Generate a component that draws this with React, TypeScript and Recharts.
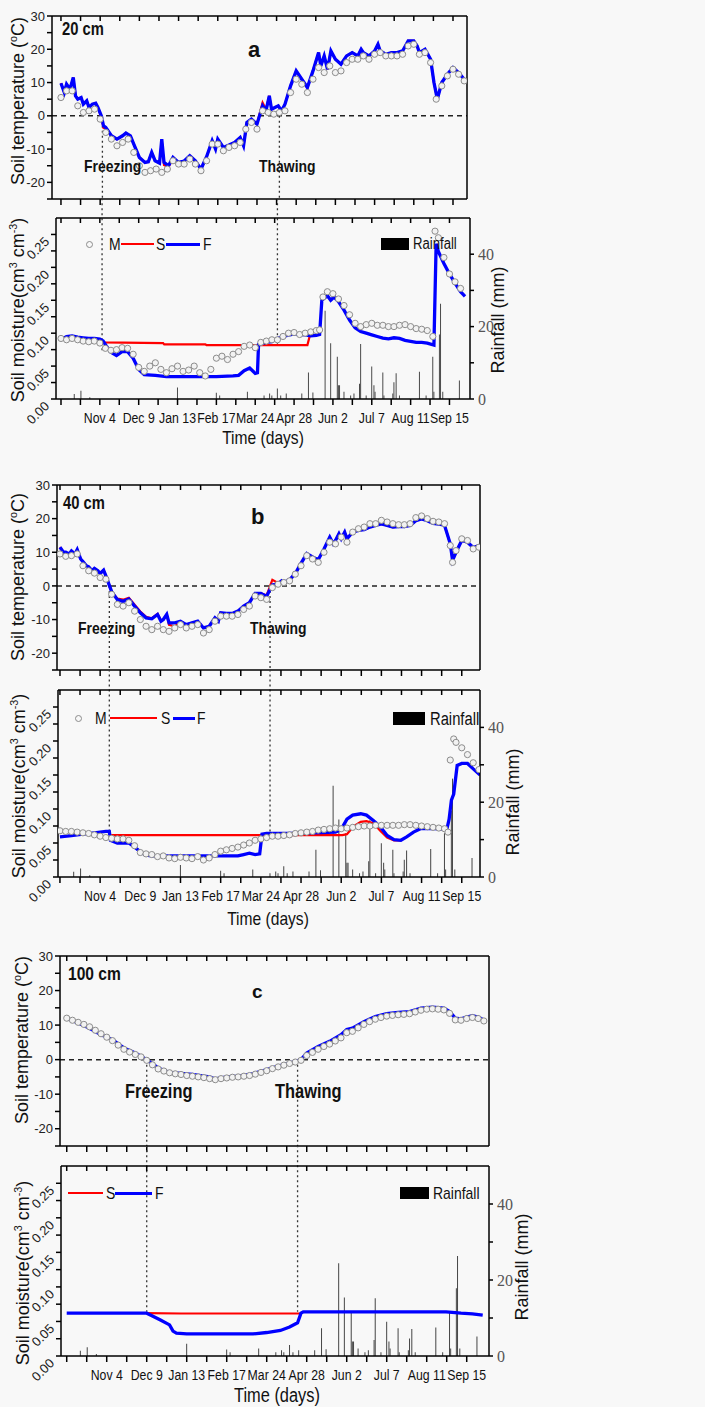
import { ComposedChart, Line, Bar, XAxis, YAxis, ReferenceLine } from 'recharts'

type Pt = [number, number]

// day 0 = Sep 30
const TICK_DAYS = [0, 17.5, 35, 52.5, 70, 87.5, 105, 122.5, 140, 157.5, 175, 192.5, 210, 227.5, 245, 262.5, 280, 297.5, 315, 332.5, 350]
const MONTH_DAYS = [35, 70, 105, 140, 175, 210, 245, 280, 315, 350]
const MONTH_LABELS = ['Nov 4', 'Dec 9', 'Jan 13', 'Feb 17', 'Mar 24', 'Apr 28', 'Jun 2', 'Jul 7', 'Aug 11', 'Sep 15']
const TEMP_TICKS = [-25, -20, -15, -10, -5, 0, 5, 10, 15, 20, 25, 30]
const MOIST_TICKS = [0, 0.025, 0.05, 0.075, 0.1, 0.125, 0.15, 0.175, 0.2, 0.225, 0.25]
const RAIN_TICKS = [0, 10, 20, 30, 40]

const RAIN_DAYS = [12, 18, 26, 105, 140, 143, 168, 183, 188, 190, 195, 198, 203, 217, 223, 227, 238, 243, 249, 250, 251, 255, 261, 264, 269, 270, 275, 280, 282, 283, 290, 291, 299, 300, 302, 305, 323, 329, 335, 336, 341, 342, 344, 359]
const RAIN_MM = [1.4, 2.3, 0.5, 3.2, 1.7, 1, 2, 1, 1.5, 1, 2.9, 1, 1.5, 1.5, 7.3, 1.8, 24.4, 15.4, 11.7, 3.8, 3.8, 2, 1, 1.5, 4.2, 15.2, 1, 9, 3.8, 2, 7.3, 1, 1.5, 4.6, 7.1, 1, 7.5, 1, 11.7, 2, 17.8, 26.3, 2, 5.1]

// ---- 20 cm ----
const tempA_F: Pt[] = [[0,9.8],[3,7],[5,9.5],[8,8],[11,11.5],[13,6],[15,5],[18,5.5],[20,3.5],[23,4.5],[25,2.5],[28,3.5],[31,3.8],[33,2.5],[36,0],[38,-3],[40,-3.5],[45,-6],[50,-7],[55,-6],[58,-5.2],[62,-6],[65,-8.5],[70,-12.5],[75,-14],[78,-13.8],[81,-11],[84,-13.5],[88,-14.2],[90,-7],[92,-14],[96,-15],[100,-12.5],[105,-14],[110,-13.6],[115,-12],[120,-13.5],[125,-16],[130,-12.3],[135,-7.5],[138,-10],[140,-7],[145,-9.5],[150,-8.8],[155,-8],[160,-6.5],[163,-9],[166,-2],[170,-1],[175,-2.5],[180,3],[183,1.5],[186,6],[188,2],[191,2.5],[194,3],[197,1.5],[200,3.5],[205,9],[210,13.5],[215,11],[220,8.5],[225,13.5],[230,19],[232,15],[235,18],[238,14],[241,19.5],[245,17],[250,15.5],[255,18],[260,19],[265,18],[268,20],[270,19],[275,18],[280,19.5],[283,21.5],[285,19.5],[290,18.5],[295,19],[300,19],[305,19.5],[310,22.5],[315,22.5],[318,21],[320,19],[325,20],[330,17],[333,10],[336,5],[340,10],[345,12.5],[350,14.5],[355,13],[360,11]]
const tempA_S: Pt[] = [[0,9.8],[3,7],[5,9.5],[8,8],[11,11.5],[13,6],[15,5],[18,5.5],[20,3.5],[23,4.5],[25,2.5],[28,3.5],[31,3.8],[33,2.5],[36,-0.5],[38,-3.6],[40,-3.8],[45,-6],[50,-7],[55,-6],[58,-5.2],[62,-6],[65,-8.5],[70,-12.5],[75,-14],[78,-13.8],[81,-11],[84,-13.5],[88,-14.2],[90,-7.5],[92,-14.8],[96,-15.4],[100,-12.8],[105,-14],[110,-13.6],[115,-12],[120,-13.5],[125,-16],[130,-12.3],[135,-7.5],[138,-10],[140,-7],[145,-9.5],[150,-8.8],[155,-8],[160,-6.5],[163,-9],[166,-2],[170,-1],[175,-2.5],[180,4],[183,2],[186,6],[188,2],[191,2.5],[194,3],[197,1.5],[200,3.5],[205,9],[210,13.5],[215,11],[220,8.5],[225,13.5],[230,19],[232,15],[235,18],[238,14],[241,19.5],[245,17],[250,15.5],[255,18],[260,19],[265,18],[268,20],[270,19],[275,18],[280,19.5],[283,21.5],[285,19.5],[290,18.5],[295,19],[300,19],[305,19.5],[310,22.5],[315,22.5],[318,21],[320,19],[325,20],[330,17],[333,10],[336,5],[340,10],[345,12.5],[350,14.5],[355,13],[360,11]]
const tempA_M: Pt[] = [[0,5.5],[5,7.5],[10,7.5],[15,3],[20,1],[25,1.5],[30,2],[35,-1],[40,-5],[45,-7],[50,-9],[55,-8],[60,-7],[65,-11],[70,-15],[75,-17],[80,-16.5],[85,-16],[90,-17],[95,-16],[100,-13.5],[105,-14.5],[110,-14.5],[115,-13],[120,-14.5],[125,-16.5],[130,-13.5],[135,-8.5],[140,-8.5],[145,-10.5],[150,-9.5],[155,-9],[160,-8],[165,-4],[170,-2],[175,-4],[180,1.5],[185,1],[190,0.5],[195,1],[200,1.5],[205,7],[210,11],[215,9.5],[220,7],[225,11],[230,14.5],[235,13],[240,15],[245,13],[250,13.5],[255,16],[260,17],[265,17],[270,18],[275,17],[280,18.5],[285,19],[290,18],[295,18],[300,18],[305,18.5],[310,21],[315,21.5],[320,18.5],[325,19],[330,16],[335,5],[340,9],[345,12],[350,14],[355,12.5],[360,10.5]]

const moistA_F: Pt[] = [[0,0.09],[5,0.095],[10,0.096],[15,0.094],[20,0.093],[25,0.092],[30,0.092],[35,0.091],[38,0.088],[41,0.08],[45,0.071],[50,0.066],[55,0.072],[60,0.072],[65,0.062],[70,0.045],[75,0.037],[85,0.036],[95,0.034],[110,0.034],[125,0.034],[140,0.034],[155,0.035],[160,0.036],[165,0.043],[170,0.047],[175,0.039],[177,0.04],[178,0.083],[185,0.086],[190,0.087],[195,0.092],[200,0.095],[205,0.097],[210,0.099],[215,0.098],[220,0.0975],[225,0.096],[230,0.0965],[233,0.098],[235,0.15],[240,0.157],[243,0.15],[246,0.155],[250,0.148],[255,0.135],[260,0.12],[265,0.108],[270,0.1025],[275,0.1],[280,0.0975],[285,0.095],[290,0.0925],[295,0.0915],[300,0.093],[305,0.092],[310,0.089],[315,0.0875],[320,0.086],[325,0.086],[330,0.085],[336,0.082],[338,0.236],[340,0.224],[345,0.206],[350,0.19],[355,0.176],[360,0.163],[364,0.156]]
const moistA_S: Pt[] = [[36,0.091],[38,0.086],[92,0.085],[93,0.083],[130,0.083],[131,0.082],[222,0.082],[224,0.095],[225,0.096]]
const moistA_M: Pt[] = [[0,0.092],[5,0.09],[10,0.092],[15,0.09],[20,0.088],[25,0.087],[30,0.088],[35,0.085],[40,0.077],[45,0.074],[50,0.075],[55,0.078],[60,0.077],[65,0.068],[70,0.048],[75,0.042],[80,0.05],[85,0.055],[90,0.045],[95,0.04],[100,0.046],[105,0.05],[110,0.042],[115,0.044],[120,0.05],[125,0.04],[130,0.035],[135,0.045],[140,0.062],[145,0.065],[150,0.06],[155,0.068],[160,0.072],[165,0.08],[170,0.082],[175,0.078],[180,0.086],[185,0.088],[190,0.09],[195,0.09],[200,0.095],[205,0.1],[210,0.101],[215,0.098],[220,0.1],[225,0.102],[230,0.104],[233,0.105],[236,0.155],[240,0.163],[245,0.16],[250,0.152],[255,0.142],[260,0.128],[265,0.115],[270,0.11],[275,0.113],[280,0.115],[285,0.112],[290,0.112],[295,0.11],[300,0.11],[305,0.112],[310,0.113],[315,0.11],[320,0.107],[325,0.106],[330,0.104],[335,0.095],[337,0.255],[340,0.245],[345,0.215],[350,0.19],[355,0.178],[360,0.168]]

// ---- 40 cm ----
const tempB_F: Pt[] = [[0,11.5],[3,10],[5,10],[8,9.5],[10,10.4],[13,9.5],[15,10.8],[18,8],[20,7.2],[23,6],[25,5.7],[28,4.5],[30,5.2],[33,4.5],[35,3.7],[38,4.7],[40,3],[45,-1.7],[50,-4.1],[55,-4.6],[60,-3.9],[65,-6],[70,-8],[75,-9.5],[80,-9.8],[85,-8.5],[88,-10.5],[90,-10],[93,-8.5],[95,-11],[100,-11],[105,-10.5],[110,-11.5],[115,-11],[120,-10.5],[125,-12.5],[130,-12],[135,-9.5],[138,-10.5],[140,-8],[145,-8.2],[150,-8.2],[155,-7.5],[160,-6],[165,-5],[170,-2.2],[175,-2.2],[180,-3.1],[185,0.3],[190,0.6],[193,1.5],[195,1],[200,1.8],[205,3.7],[210,6.7],[215,9.6],[220,8.6],[225,7.8],[230,11],[235,14.5],[238,12.5],[240,13.5],[243,15.5],[245,14],[248,16],[250,14],[255,16],[260,16.5],[265,16.7],[270,17.5],[275,18],[280,18.4],[285,18],[290,17.5],[295,17.6],[300,17.6],[305,18],[310,19.4],[315,19.9],[320,19.4],[325,18.6],[330,18.4],[335,18],[340,12.5],[342,7.6],[345,10],[350,13.5],[355,13],[360,11.4],[365,12]]
const tempB_S: Pt[] = [[0,11.5],[3,10],[5,10],[8,9.5],[10,10.4],[13,9.5],[15,10.8],[18,8],[20,7.2],[23,6],[25,5.7],[28,4.5],[30,5.2],[33,4.5],[35,3.7],[38,4.7],[40,3],[45,-1.7],[50,-3.8],[55,-4.1],[60,-3.5],[65,-5.6],[70,-7.6],[75,-9.2],[80,-9.6],[85,-8.3],[88,-10.3],[90,-10],[93,-8.5],[95,-11.6],[100,-12],[105,-10.5],[110,-11.5],[115,-11],[120,-10.5],[125,-12.5],[130,-12],[135,-9.5],[138,-10.5],[140,-8],[145,-8.2],[150,-8.2],[155,-7.5],[160,-6],[165,-5],[170,-2.2],[175,-2.2],[180,-2.8],[185,1.8],[190,0.9],[193,1.5],[195,1],[200,1.8],[205,3.7],[210,6.7],[215,9.6],[220,8.6],[225,7.8],[230,11],[235,14.5],[238,12.5],[240,13.5],[243,15.5],[245,14],[248,16],[250,14],[255,16],[260,16.5],[265,16.7],[270,17.5],[275,18],[280,18.4],[285,18],[290,17.5],[295,17.6],[300,17.6],[305,18],[310,19.4],[315,19.9],[320,19.4],[325,18.6],[330,18.4],[335,18],[340,12.5],[342,7.6],[345,10],[350,13.5],[355,13],[360,11.4],[365,12]]
const tempB_M: Pt[] = [[0,9.5],[5,8.8],[10,9],[15,9.5],[20,6],[25,4.5],[30,3.8],[35,2.5],[40,2],[45,-2.5],[50,-5.5],[55,-6],[60,-5],[65,-7.5],[70,-10],[75,-12],[80,-13],[85,-12],[90,-13],[95,-13.5],[100,-12.5],[105,-11.5],[110,-12.5],[115,-12],[120,-11.5],[125,-14],[130,-13],[135,-10.5],[140,-9],[145,-9],[150,-9],[155,-8.5],[160,-7],[165,-6],[170,-3],[175,-3.5],[180,-4],[185,-0.5],[190,0.5],[195,1],[200,1.5],[205,3.5],[210,6],[215,9],[220,8],[225,7],[230,10],[235,13],[240,12.5],[245,14.5],[250,13],[255,16],[260,17],[265,17.5],[270,18.5],[275,18.5],[280,19.5],[285,19],[290,18.5],[295,18.2],[300,18.2],[305,18.5],[310,20.3],[315,20.8],[320,20],[325,19.2],[330,19],[335,18.5],[340,12],[342,7],[345,10.5],[350,14],[355,13.5],[360,11],[365,11.5]]

const moistB_F: Pt[] = [[0,0.059],[10,0.061],[20,0.063],[30,0.065],[40,0.067],[43,0.067],[44,0.054],[50,0.05],[60,0.05],[65,0.044],[70,0.037],[75,0.032],[80,0.031],[100,0.031],[120,0.031],[140,0.031],[155,0.031],[160,0.033],[165,0.035],[170,0.033],[174,0.034],[176,0.063],[180,0.064],[200,0.064],[220,0.065],[240,0.066],[245,0.07],[250,0.085],[255,0.091],[262,0.093],[267,0.091],[273,0.083],[279,0.074],[285,0.061],[291,0.055],[297,0.054],[302,0.059],[308,0.066],[314,0.071],[326,0.071],[337,0.07],[339,0.085],[341,0.113],[343,0.122],[346,0.164],[350,0.167],[355,0.167],[360,0.159],[366,0.15]]
const moistB_S: Pt[] = [[43,0.0615],[100,0.0615],[150,0.0615],[200,0.0615],[246,0.0615],[250,0.063],[256,0.075],[262,0.081],[267,0.082],[273,0.079],[279,0.068],[285,0.058],[291,0.054],[297,0.054]]
const moistB_M: Pt[] = [[0,0.068],[5,0.067],[10,0.067],[15,0.066],[20,0.065],[25,0.064],[30,0.062],[35,0.06],[40,0.058],[45,0.057],[50,0.056],[55,0.056],[60,0.054],[65,0.046],[70,0.036],[75,0.034],[80,0.033],[85,0.03],[90,0.031],[95,0.028],[100,0.027],[105,0.029],[110,0.028],[115,0.027],[120,0.03],[125,0.025],[130,0.028],[135,0.033],[140,0.038],[145,0.04],[150,0.042],[155,0.044],[160,0.047],[165,0.05],[170,0.054],[175,0.056],[180,0.058],[185,0.06],[190,0.06],[195,0.061],[200,0.062],[205,0.064],[210,0.065],[215,0.066],[220,0.067],[225,0.069],[230,0.07],[235,0.071],[240,0.072],[245,0.071],[250,0.072],[255,0.073],[260,0.074],[265,0.075],[270,0.075],[275,0.076],[280,0.076],[285,0.076],[290,0.076],[295,0.076],[300,0.077],[305,0.077],[310,0.076],[315,0.075],[320,0.074],[325,0.073],[330,0.072],[335,0.071],[338,0.066],[340,0.172],[343,0.203],[345,0.198],[350,0.19],[355,0.18],[360,0.168],[365,0.158]]

// ---- 100 cm ----
const tempC_F: Pt[] = [[0,12],[10,10.6],[20,9.1],[30,7.2],[40,5.8],[50,3.4],[60,1.9],[70,0],[80,-2.4],[90,-3.7],[100,-4],[110,-4.3],[120,-4.8],[125,-5],[130,-5.6],[140,-5],[150,-4.8],[160,-4.3],[170,-3.4],[180,-2.4],[190,-1.4],[200,-0.5],[205,0],[210,1.9],[220,3.8],[230,5.3],[240,7.2],[245,8.7],[250,9.1],[260,11],[270,12.5],[280,13.3],[290,13.7],[300,13.9],[310,14.9],[320,15.2],[330,14.9],[335,13.9],[340,12],[345,11.8],[350,12.3],[355,12.7],[360,12.3],[365,11.5]]
const tempC_M: Pt[] = [[0,12],[5,11.4],[10,10.8],[15,10.2],[20,9.5],[25,8.5],[30,7.5],[35,6.5],[40,5.5],[45,4.2],[50,3],[55,2.2],[60,1.5],[65,0.8],[70,-0.2],[75,-1.5],[80,-2.7],[85,-3.3],[90,-3.8],[95,-4.1],[100,-4.3],[105,-4.6],[110,-4.8],[115,-5],[120,-5.2],[125,-5.5],[130,-5.8],[135,-5.5],[140,-5.3],[145,-5.1],[150,-5],[155,-4.8],[160,-4.6],[165,-4.2],[170,-3.7],[175,-3.2],[180,-2.6],[185,-2.1],[190,-1.6],[195,-1.1],[200,-0.7],[205,-0.2],[210,1.2],[215,2.1],[220,3],[225,3.8],[230,4.5],[235,5.4],[240,6.3],[245,7.8],[250,8.2],[255,9.2],[260,10.2],[265,11],[270,11.7],[275,12.2],[280,12.6],[285,12.8],[290,13],[295,13.1],[300,13.3],[305,13.8],[310,14.3],[315,14.6],[320,14.7],[325,14.6],[330,14.4],[335,13.4],[340,11.5],[345,11.4],[350,11.9],[355,12.2],[360,11.9],[365,11.2]]

const moistC_F: Pt[] = [[0,0.062],[35,0.062],[70,0.062],[75,0.058],[82,0.052],[90,0.045],[93,0.036],[96,0.033],[105,0.032],[130,0.032],[163,0.032],[175,0.034],[187,0.037],[195,0.042],[202,0.048],[205,0.062],[207,0.064],[250,0.064],[300,0.064],[332,0.064],[345,0.062],[355,0.061],[364,0.059]]
const moistC_S: Pt[] = [[70,0.062],[100,0.0615],[150,0.0615],[205,0.0615]]

const SANS = '"Liberation Sans", Arial, sans-serif'
const SERIF = '"Liberation Serif", "Times New Roman", serif'
const W = 705
const SQ = 0.82 // horizontal squeeze, narrow look of the original lettering

const pts = (a: Pt[]) => a.map(([day, v]) => ({ day, v }))
const rainRows = RAIN_DAYS.map((day, i) => ({ day, rain: RAIN_MM[i] }))

interface Geo { left: number; right: number; top: number; bottom: number; d0: number; d1: number }

const GEO: Record<string, Geo> = {
  aT: { left: 52, right: 467, top: 16, bottom: 199, d0: -8, d1: 362.5 },
  aM: { left: 56, right: 470, top: 218, bottom: 399, d0: -4.5, d1: 368.5 },
  bT: { left: 57, right: 480, top: 485, bottom: 670, d0: -2.6, d1: 365.9 },
  bM: { left: 58, right: 480, top: 690, bottom: 877, d0: -1.7, d1: 365.9 },
  cT: { left: 60, right: 489, top: 956, bottom: 1146, d0: -5.9, d1: 369.5 },
  cM: { left: 61, right: 489, top: 1166, bottom: 1356, d0: -5, d1: 369.5 },
}

const circleDot = { r: 3.1, stroke: '#8c8c8c', strokeWidth: 1, fill: '#f2f2f2' }

function SlantTick(props: any) {
  const { x, y, payload } = props
  const v = payload.value
  if (Math.round(v * 1000) % 50 !== 0) return <g />
  const ax = x + 1
  const ay = y + 8
  return (
    <text x={ax} y={ay} transform={`rotate(-45 ${ax} ${ay})`} textAnchor="end" fontSize={13} fontFamily={SANS} fill="#222">
      {v.toFixed(2)}
    </text>
  )
}

function MonthTick(props: any) {
  const { x, y, payload } = props
  const i = MONTH_DAYS.indexOf(payload.value)
  if (i < 0) return <g />
  return (
    <text transform={`translate(${x},${y}) scale(${SQ},1)`} textAnchor="middle" dy="0.71em" fontSize={15} fontFamily={SANS} fill="#111">
      {MONTH_LABELS[i]}
    </text>
  )
}

function TempChart({ g, M, S, F, freeze, thaw }: { g: Geo; M: Pt[]; S?: Pt[]; F: Pt[]; freeze: number; thaw: number }) {
  const h = g.bottom - g.top
  return (
    <div style={{ position: 'absolute', left: 0, top: g.top - 20 }}>
      <ComposedChart width={W} height={h + 40} margin={{ top: 20, bottom: 0, left: g.left - 40, right: W - g.right }}>
        <XAxis xAxisId="b" type="number" dataKey="day" domain={[g.d0, g.d1]} allowDataOverflow ticks={TICK_DAYS} interval={0}
          height={20} tickSize={6} tickFormatter={() => ''} stroke="#000" strokeWidth={1.5} />
        <XAxis xAxisId="t" orientation="top" mirror type="number" dataKey="day" domain={[g.d0, g.d1]} allowDataOverflow ticks={TICK_DAYS} interval={0}
          height={20} tickSize={5} tickFormatter={() => ''} stroke="#000" strokeWidth={1.5} />
        <YAxis yAxisId="l" type="number" dataKey="v" domain={[-25, 30]} allowDataOverflow ticks={TEMP_TICKS} interval={0} width={40}
          tickSize={5} tickMargin={2} stroke="#000" strokeWidth={1.5}
          tickFormatter={(v: number) => (v % 10 === 0 ? String(v) : '')}
          tick={{ fill: '#222', fontSize: 13, fontFamily: SANS }} />
        <YAxis yAxisId="r" orientation="right" mirror type="number" domain={[-25, 30]} ticks={TEMP_TICKS} interval={0} width={40}
          tickSize={5} tickFormatter={() => ''} stroke="#000" strokeWidth={1.5} />
        <ReferenceLine xAxisId="b" yAxisId="l" y={0} stroke="#222" strokeWidth={1.5} strokeDasharray="5 4" />
        <ReferenceLine xAxisId="b" yAxisId="l" segment={[{ x: freeze, y: 0 }, { x: freeze, y: -25 }]} stroke="#333" strokeWidth={1.3} strokeDasharray="2 3" />
        <ReferenceLine xAxisId="b" yAxisId="l" segment={[{ x: thaw, y: 0 }, { x: thaw, y: -25 }]} stroke="#333" strokeWidth={1.3} strokeDasharray="2 3" />
        <Line xAxisId="b" yAxisId="l" data={pts(M)} dataKey="v" stroke="none" dot={circleDot} isAnimationActive={false} />
        {S && <Line xAxisId="b" yAxisId="l" data={pts(S)} dataKey="v" stroke="#ff0000" strokeWidth={2.2} dot={false} isAnimationActive={false} />}
        <Line xAxisId="b" yAxisId="l" data={pts(F)} dataKey="v" stroke="#0000ff" strokeWidth={3.3} dot={false} isAnimationActive={false} />
      </ComposedChart>
    </div>
  )
}

function MoistChart({ g, M, S, F, freeze, thaw, fEnd, tEnd }: { g: Geo; M?: Pt[]; S: Pt[]; F: Pt[]; freeze: number; thaw: number; fEnd: number; tEnd: number }) {
  const h = g.bottom - g.top
  return (
    <div style={{ position: 'absolute', left: 0, top: g.top - 20 }}>
      <ComposedChart width={W} height={h + 60} data={rainRows} margin={{ top: 20, bottom: 0, left: g.left - 40, right: W - g.right - 40 }}>
        <XAxis xAxisId="b" type="number" dataKey="day" domain={[g.d0, g.d1]} allowDataOverflow ticks={TICK_DAYS} interval={0}
          height={40} tickSize={6} tickMargin={7} stroke="#000" strokeWidth={1.5} tick={<MonthTick />} />
        <XAxis xAxisId="t" orientation="top" mirror type="number" dataKey="day" domain={[g.d0, g.d1]} allowDataOverflow ticks={TICK_DAYS} interval={0}
          height={20} tickSize={5} tickFormatter={() => ''} stroke="#000" strokeWidth={1.5} />
        <YAxis yAxisId="l" type="number" dataKey="v" domain={[0, 0.275]} allowDataOverflow ticks={MOIST_TICKS} interval={0} width={40}
          tickSize={5} tickMargin={2} stroke="#000" strokeWidth={1.5} tick={<SlantTick />} />
        <YAxis yAxisId="rain" orientation="right" type="number" dataKey="rain" domain={[0, 50]} allowDataOverflow ticks={RAIN_TICKS} interval={0} width={40}
          tickSize={4} tickMargin={4} stroke="#000" strokeWidth={1.5}
          tickFormatter={(v: number) => (v % 20 === 0 ? String(v) : '')}
          tick={{ fill: '#555', fontSize: 16, fontFamily: SERIF }} />
        <ReferenceLine xAxisId="b" yAxisId="l" ifOverflow="visible" segment={[{ x: freeze, y: 0.305 }, { x: freeze, y: fEnd }]} stroke="#333" strokeWidth={1.3} strokeDasharray="2 3" />
        <ReferenceLine xAxisId="b" yAxisId="l" ifOverflow="visible" segment={[{ x: thaw, y: 0.305 }, { x: thaw, y: tEnd }]} stroke="#333" strokeWidth={1.3} strokeDasharray="2 3" />
        <Bar xAxisId="b" yAxisId="rain" dataKey="rain" fill="#4a4a4a" barSize={1.6} isAnimationActive={false} />
        {M && <Line xAxisId="b" yAxisId="l" data={pts(M)} dataKey="v" stroke="none" dot={circleDot} isAnimationActive={false} />}
        <Line xAxisId="b" yAxisId="l" data={pts(S)} dataKey="v" stroke="#ff0000" strokeWidth={2.2} dot={false} isAnimationActive={false} />
        <Line xAxisId="b" yAxisId="l" data={pts(F)} dataKey="v" stroke="#0000ff" strokeWidth={3.3} dot={false} isAnimationActive={false} />
      </ComposedChart>
    </div>
  )
}

// text placed by its left edge and vertical centre; narrow texts squeezed horizontally
const abs = (x: number, y: number, extra: React.CSSProperties = {}, narrow = false): React.CSSProperties => ({
  position: 'absolute', left: x, top: y, transform: narrow ? `translateY(-50%) scaleX(${SQ})` : 'translateY(-50%)',
  transformOrigin: 'left center', lineHeight: 1, whiteSpace: 'nowrap', fontFamily: SANS, ...extra,
})
const centred = (x: number, y: number, size: number): React.CSSProperties => ({
  position: 'absolute', left: x, top: y, transform: `translate(-50%, -50%) scaleX(${SQ})`, lineHeight: 1, whiteSpace: 'nowrap', fontFamily: SANS, fontSize: size,
})

function VTitle({ x, y, children, size = 18 }: { x: number; y: number; children: React.ReactNode; size?: number }) {
  return (
    <div style={{ position: 'absolute', left: x, top: y, transform: 'translate(-50%, -50%) rotate(-90deg)', whiteSpace: 'nowrap', fontFamily: SANS, fontSize: size, color: '#111', lineHeight: 1 }}>
      {children}
    </div>
  )
}

function Legend({ cy, circleX, mX, red, sX, blue, fX, box, rainX, rainSize }: {
  cy: number; circleX?: number; mX?: number; red: [number, number]; sX: number; blue: [number, number]; fX: number; box: [number, number, number, number]; rainX: number; rainSize: number
}) {
  return (
    <>
      {circleX !== undefined && <div style={{ position: 'absolute', left: circleX - 3, top: cy - 3, width: 5, height: 5, borderRadius: '50%', border: '1px solid #8c8c8c' }} />}
      {mX !== undefined && <div style={abs(mX, cy, { fontSize: 17 }, true)}>M</div>}
      <div style={{ position: 'absolute', left: red[0], top: cy - 1, width: red[1] - red[0], height: 2, background: '#ff0000' }} />
      <div style={abs(sX, cy, { fontSize: 17 }, true)}>S</div>
      <div style={{ position: 'absolute', left: blue[0], top: cy - 1.5, width: blue[1] - blue[0], height: 3, background: '#0000ff' }} />
      <div style={abs(fX, cy, { fontSize: 17 }, true)}>F</div>
      <div style={{ position: 'absolute', left: box[0], top: box[1], width: box[2] - box[0], height: box[3] - box[1], background: '#000' }} />
      <div style={abs(rainX, (box[1] + box[3]) / 2, { fontSize: rainSize }, true)}>Rainfall</div>
    </>
  )
}

const moistTitle = <>Soil moisture(cm<sup style={{ fontSize: '0.6em' }}>3</sup> cm<sup style={{ fontSize: '0.6em' }}>-3</sup>)</>
const tempTitle = <>Soil temperature (<sup style={{ fontSize: '0.6em' }}>o</sup>C)</>
const bold = { fontWeight: 'bold' as const }

export default function App() {
  return (
    <div style={{ position: 'absolute', left: 0, top: 0, width: W, height: 1407, background: '#f8f8f8', overflow: 'hidden', color: '#111' }}>
      {/* 20 cm */}
      <TempChart g={GEO.aT} M={tempA_M} S={tempA_S} F={tempA_F} freeze={37} thaw={195} />
      <MoistChart g={GEO.aM} M={moistA_M} S={moistA_S} F={moistA_F} freeze={37} thaw={195} fEnd={0.074} tEnd={0.079} />
      <div style={abs(62, 29, { ...bold, fontSize: 18 }, true)}>20 cm</div>
      <div style={abs(248, 50, { ...bold, fontSize: 22 })}>a</div>
      <div style={abs(84, 166, { ...bold, fontSize: 17 }, true)}>Freezing</div>
      <div style={abs(259, 166, { ...bold, fontSize: 17 }, true)}>Thawing</div>
      <VTitle x={17} y={101}>{tempTitle}</VTitle>
      <VTitle x={17} y={310}>{moistTitle}</VTitle>
      <VTitle x={498} y={320}>Rainfall (mm)</VTitle>
      <Legend cy={244} circleX={89} mX={109} red={[121, 154]} sX={156} blue={[166, 200]} fX={203} box={[381, 238, 409, 250]} rainX={413} rainSize={16} />
      <div style={centred(263, 437, 19)}>Time (days)</div>

      {/* 40 cm */}
      <TempChart g={GEO.bT} M={tempB_M} S={tempB_S} F={tempB_F} freeze={43} thaw={183} />
      <MoistChart g={GEO.bM} M={moistB_M} S={moistB_S} F={moistB_F} freeze={43} thaw={183} fEnd={0.059} tEnd={0.066} />
      <div style={abs(63, 503, { ...bold, fontSize: 18 }, true)}>40 cm</div>
      <div style={abs(251, 517, { ...bold, fontSize: 22 })}>b</div>
      <div style={abs(78, 628, { ...bold, fontSize: 17 }, true)}>Freezing</div>
      <div style={abs(250, 628, { ...bold, fontSize: 17 }, true)}>Thawing</div>
      <VTitle x={17} y={577}>{tempTitle}</VTitle>
      <VTitle x={18} y={786}>{moistTitle}</VTitle>
      <VTitle x={513} y={802}>Rainfall (mm)</VTitle>
      <Legend cy={718} circleX={78} mX={95} red={[110, 157]} sX={161} blue={[173, 195]} fX={197} box={[393, 712, 425, 725]} rainX={430} rainSize={18} />
      <div style={centred(268, 918, 19)}>Time (days)</div>

      {/* 100 cm */}
      <TempChart g={GEO.cT} M={tempC_M} F={tempC_F} freeze={70} thaw={202} />
      <MoistChart g={GEO.cM} S={moistC_S} F={moistC_F} freeze={70} thaw={202} fEnd={0.064} tEnd={0.064} />
      <div style={abs(68, 973, { ...bold, fontSize: 19 }, true)}>100 cm</div>
      <div style={abs(252, 991, { ...bold, fontSize: 19 })}>c</div>
      <div style={abs(125, 1091, { ...bold, fontSize: 20 }, true)}>Freezing</div>
      <div style={abs(275, 1091, { ...bold, fontSize: 20 }, true)}>Thawing</div>
      <VTitle x={21} y={1040}>{tempTitle}</VTitle>
      <VTitle x={22} y={1273}>{moistTitle}</VTitle>
      <VTitle x={522} y={1267}>Rainfall (mm)</VTitle>
      <Legend cy={1193} red={[68, 103]} sX={106} blue={[115, 152]} fX={155} box={[400, 1187, 429, 1199]} rainX={433} rainSize={17} />
      <div style={centred(277, 1395, 20)}>Time (days)</div>
    </div>
  )
}
